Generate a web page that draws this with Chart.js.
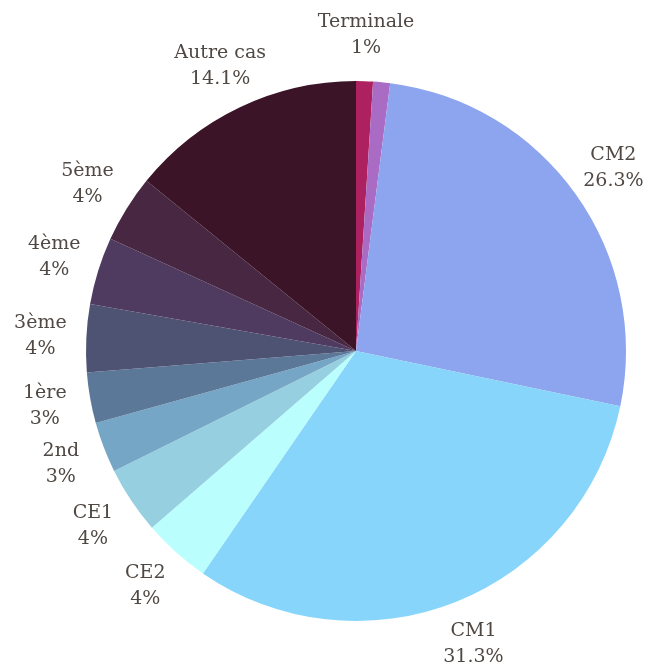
<!DOCTYPE html>
<html>
<head>
<meta charset="utf-8">
<script src="https://cdn.jsdelivr.net/npm/chart.js@4"></script>
<style>
    html, body { margin: 0; padding: 0; background: #fff; }
    #box { width: 659px; height: 666px; position: relative; }
</style>
</head>
<body>
<div id="box"><canvas id="chartNiveaux"></canvas></div>
<script>
const niveaux = ["Terminale", "6ème", "CM2", "CM1", "CE2", "CE1", "2nd", "1ère", "3ème", "4ème", "5ème", "Autre cas"];
const effectifs = [1, 1, 26, 31, 4, 4, 3, 3, 4, 4, 4, 14];
const couleurs = ["#ae2160", "#a96bc3", "#8da4ee", "#87d5fa", "#bafefe", "#96d0e0",
                  "#76a6c5", "#5c7899", "#4e5374", "#4f3b5f", "#482743", "#3c1427"];

const totale = effectifs.reduce((s, v) => s + v, 0);

function percentuale(v) {
    return (Math.round(v / totale * 1000) / 10) + "%";
}

// etichette esterne, nascoste se si sovrappongono a una già disegnata
const etichettePlugin = {
    id: "etichette",
    afterDatasetsDraw(chart) {
        const ctx = chart.ctx;
        const meta = chart.getDatasetMeta(0);
        const occupati = [];
        ctx.save();
        ctx.font = "19px 'DejaVu Serif'";
        ctx.fillStyle = "#4f4843";
        ctx.textAlign = "center";
        ctx.textBaseline = "middle";
        meta.data.forEach((arc, i) => {
            const mid = (arc.startAngle + arc.endAngle) / 2;
            const dist = arc.outerRadius + 46;
            const x = arc.x + Math.cos(mid) * dist;
            const y = arc.y + Math.sin(mid) * dist;
            const righe = [niveaux[i], percentuale(effectifs[i])];
            const w = Math.max(...righe.map(r => ctx.measureText(r).width));
            const box = { l: x - w / 2, r: x + w / 2, t: y - 26, b: y + 26 };
            const sovrapposto = occupati.some(o => box.l < o.r && box.r > o.l && box.t < o.b && box.b > o.t);
            if (sovrapposto) return;
            occupati.push(box);
            ctx.fillText(righe[0], x, y - 13);
            ctx.fillText(righe[1], x, y + 13);
        });
        ctx.restore();
    }
};

new Chart(document.getElementById("chartNiveaux"), {
    type: "pie",
    data: {
        labels: niveaux,
        datasets: [{
            data: effectifs,
            backgroundColor: couleurs,
            borderWidth: 0,
            hoverOffset: 0
        }]
    },
    options: {
        responsive: true,
        maintainAspectRatio: false,
        animation: false,
        layout: {
            padding: { top: 81, left: 86, right: 33, bottom: 45 }
        },
        plugins: {
            legend: { display: false },
            tooltip: { enabled: false }
        }
    },
    plugins: [etichettePlugin]
});
</script>
</body>
</html>
